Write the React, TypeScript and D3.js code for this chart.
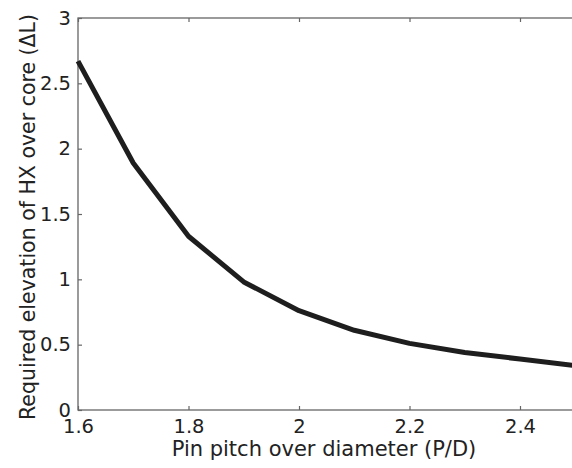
import React, { useEffect, useRef } from 'react';
import * as d3 from 'd3';

// P/D ratio and required elevation of HX over core
const pitchRatio = [1.6, 1.7, 1.8, 1.9, 2.0, 2.1, 2.2, 2.3, 2.4, 2.5];
const elevation = [2.67, 1.89, 1.33, 0.98, 0.76, 0.61, 0.51, 0.44, 0.39, 0.34];
const xTicks = [1.6, 1.8, 2.0, 2.2, 2.4];
const yTicks = [0, 0.5, 1, 1.5, 2, 2.5, 3];
const xTitle = 'Pin pitch over diameter (P/D)';
const yTitle = 'Required elevation of HX over core (\u0394L)';

const W = 572;
const H = 468;
const FONT = '"DejaVu Sans", Verdana, sans-serif';

const App = () => {
  const ref = useRef<SVGSVGElement>(null);

  useEffect(() => {
    const svg = d3.select(ref.current);
    svg.selectAll('*').remove();

    const left = 78;
    const top = 18;
    const bottom = 410;
    const x = d3.scaleLinear().domain([1.6, 2.5]).range([left, left + 4.5 * 110.5]);
    const y = d3.scaleLinear().domain([0, 3]).range([bottom, top]);
    const right = x(2.5) as number;

    svg.append('rect').attr('width', W).attr('height', H).attr('fill', '#fff');

    // frame
    svg
      .append('rect')
      .attr('x', left)
      .attr('y', top)
      .attr('width', right - left)
      .attr('height', bottom - top)
      .attr('fill', 'none')
      .attr('stroke', '#666')
      .attr('stroke-width', 1.3);

    // bottom axis, ticks inward
    const xAxis = svg
      .append('g')
      .attr('transform', `translate(0,${bottom})`)
      .call(d3.axisBottom(x).tickValues(xTicks).tickSize(-4).tickPadding(9).tickFormat(d3.format('')));
    xAxis.select('.domain').remove();

    const xTop = svg
      .append('g')
      .attr('transform', `translate(0,${top})`)
      .call(d3.axisTop(x).tickValues(xTicks).tickSize(-4).tickFormat(() => ''));
    xTop.select('.domain').remove();

    const yAxis = svg
      .append('g')
      .attr('transform', `translate(${left},0)`)
      .call(d3.axisLeft(y).tickValues(yTicks).tickSize(-4).tickPadding(7).tickFormat(d3.format('')));
    yAxis.select('.domain').remove();

    svg.selectAll('.tick line').attr('stroke', '#666').attr('stroke-width', 1.2);
    svg
      .selectAll('.tick text')
      .attr('fill', '#222')
      .style('font-family', FONT)
      .style('font-size', '19.5px');

    // curve
    const line = d3
      .line<number>()
      .x((_, i) => x(pitchRatio[i]))
      .y((d) => y(d));

    svg
      .append('path')
      .datum(elevation)
      .attr('d', line)
      .attr('fill', 'none')
      .attr('stroke', '#1e1e1e')
      .attr('stroke-width', 5)
      .attr('stroke-linejoin', 'round');

    // titles
    svg
      .append('text')
      .attr('x', 324)
      .attr('y', 456)
      .attr('text-anchor', 'middle')
      .attr('fill', '#222')
      .style('font-family', FONT)
      .style('font-size', '21px')
      .text(xTitle);

    svg
      .append('text')
      .attr('transform', `translate(35,217) rotate(-90)`)
      .attr('text-anchor', 'middle')
      .attr('fill', '#222')
      .style('font-family', FONT)
      .style('font-size', '20.5px')
      .text(yTitle);
  }, []);

  return (
    <svg
      ref={ref}
      width={W}
      height={H}
      style={{ position: 'absolute', left: 0, top: 0, display: 'block' }}
    ></svg>
  );
};

export default App;
